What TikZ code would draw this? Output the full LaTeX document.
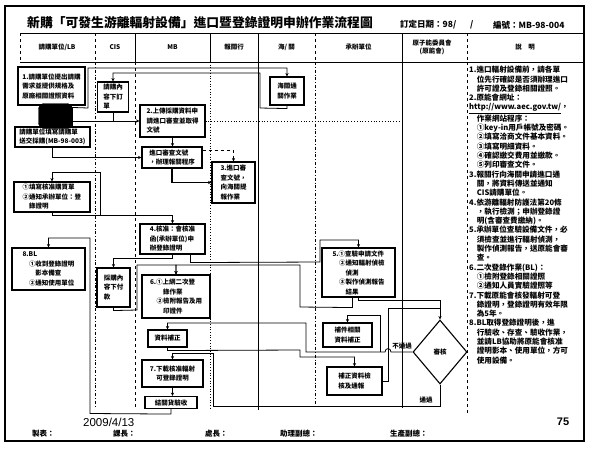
\documentclass[tikz,border=0pt]{standalone}
\usepackage{fontspec}
\setmainfont{Noto Sans CJK TC}
\newfontfamily\latinsans{Liberation Sans}
\usetikzlibrary{arrows.meta,calc,shapes.geometric}
\begin{document}
\begin{tikzpicture}[x=1pt,y=-1pt,
  box/.style={draw,line width=1.1pt,fill=white,inner sep=1.5pt,align=left,font=\fontsize{6.5}{9.5}\selectfont\bfseries},
  conn/.style={line width=0.8pt},
  arr/.style={conn,-{Stealth[length=3.4pt,width=3.2pt]}},
  hdr/.style={font=\fontsize{6.5}{8}\selectfont\bfseries,align=center,inner sep=0pt},
  lbl/.style={font=\fontsize{6.5}{8}\selectfont\bfseries,inner sep=0.5pt},
  foot/.style={font=\fontsize{7.5}{9}\selectfont\bfseries,anchor=west,inner sep=0pt},
  grid/.style={line width=0.7pt}]
\fill[white] (0,0) rectangle (589,451);
\useasboundingbox (0,0) rectangle (589,451);
% frame
\draw[line width=1.6pt] (5,6) rectangle (584,441);
% title
\node[anchor=west,inner sep=0pt,font=\fontsize{12.8}{14}\selectfont\bfseries] (title) at (27,23) {新購「可發生游離輻射設備」進口暨登錄證明申辦作業流程圖};
\node[anchor=west,inner sep=0pt,font=\fontsize{8.5}{10}\selectfont\bfseries] (date) at (400,25) {訂定日期：98/};
\node[anchor=west,inner sep=0pt,font=\fontsize{8.5}{10}\selectfont\bfseries] (slash) at (470,25) {/};
\node[anchor=west,inner sep=0pt,font=\fontsize{8.5}{10}\selectfont\bfseries] (code) at (493,25) {編號：MB-98-004};
% header row
\draw[grid,line width=1pt] (20,33) -- (583,33);
\draw[grid,line width=1pt] (20,62) -- (583,62);
\foreach \x in {20,95,315,467,583} \draw[grid,dashed] (\x,33) -- (\x,62);
\foreach \x in {135,210,258,402} \draw[grid,line width=1pt] (\x,33) -- (\x,62);
\node[hdr] (h1) at (57,47) {請購單位/LB};
\node[hdr] (h2) at (115,47) {CIS};
\node[hdr] (h3) at (172.5,47) {MB};
\node[hdr] (h4) at (234,47) {報關行};
\node[hdr] (h5) at (286.5,47) {海/ 關};
\node[hdr] (h6) at (358.5,47) {承辦單位};
\node[hdr] (h7) at (432,47) {原子能委員會\\(原能會)};
\node[hdr] (h8) at (525,47) {說　明};
% body dividers
\draw[grid,dash dot] (95,62) -- (95,408);
\draw[grid,dashed] (135,62) -- (135,408);
\draw[grid,dotted] (210,62) -- (210,408);
\draw[grid,line width=0.6pt] (258,62) -- (258,410);
\draw[grid,dash dot] (315,62) -- (315,408);
\draw[grid] (402,62) -- (402,408);
\draw[grid,dashed] (467,62) -- (467,414);
% boxes
\node[box,minimum width=67pt,minimum height=38pt] (A) at (51.5,86) {1.請購單位提出請購\\需求並提供規格及\\原廠相關證照資料};
\node[box,minimum width=75pt,minimum height=20pt] (B) at (52.5,137) {請購單位填寫請購單\\送交採購(MB-98-003)};
% scan blot
\node[fill=black,draw=black,rounded corners=5pt,minimum width=34pt,minimum height=25pt,inner sep=0pt] (blot) at (55.5,116) {};
\node[box,minimum width=31pt,minimum height=30pt] (C) at (113,97) {請購內\\容下訂\\單};
\node[box,minimum width=65pt,minimum height=32pt] (D) at (172.5,121) {2.上傳採購資料申\\請進口審查並取得\\文號};
\node[box,minimum width=60pt,minimum height=21pt] (E) at (172,157.5) {進口審查文號\\，辦理報關程序};
\node[box,minimum width=34pt,minimum height=28pt] (F) at (287,91) {海關通\\關作業};
\node[box,minimum width=43pt,minimum height=41pt] (G) at (233.5,182.5) {3.進口審\\查文號，\\向海關提\\報作業};
\node[box,minimum width=76pt,minimum height=30pt] (H) at (52,197) {①填寫核准購買單\\②通知承辦單位：登\\　錄證明};
\node[box,minimum width=73pt,minimum height=42pt] (I) at (48.5,269) {8.BL\\　①收到登錄證明\\　　影本備查\\　②通知使用單位};
\node[box,minimum width=65pt,minimum height=30pt] (K) at (172.5,239) {4.核准：會核准\\函(承辦單位)申\\辦登錄證明};
\node[box,minimum width=33pt,minimum height=39pt] (L) at (113.5,287.5) {採購內\\容下付\\款};
\node[box,minimum width=68pt,minimum height=43pt] (M) at (176,296.5) {6.①上網二次登\\　　錄作業\\　②檢附報告及用\\　　印證件};
\node[box,minimum width=73pt,minimum height=49pt] (N) at (358.5,272.5) {5.①查驗申請文件\\　②通知輻射偵檢\\　　偵測\\　③製作偵測報告\\　　結果};
\node[box,minimum width=39pt,minimum height=17pt] (O) at (167.5,338.5) {資料補正};
\node[box,minimum width=49pt,minimum height=24pt] (P) at (347.5,335) {補件相關\\資料補正};
\node[box,minimum width=55pt,minimum height=28pt] (Q) at (354.5,381) {補正資料檢\\核及通報};
\node[box,minimum width=61pt,minimum height=27pt] (R) at (172.5,373.5) {7.下載核准輻射\\　可登錄證明};
\node[box,minimum width=52pt,minimum height=12pt] (J) at (171,402.5) {結關貨驗收};
\node[draw,diamond,line width=1.1pt,fill=white,minimum width=54pt,minimum height=64pt,inner sep=0pt,font=\fontsize{6.5}{8}\selectfont\bfseries] (dia) at (440,352) {審核};
% connectors
\draw[arr] ($(B.north)+(20,0)$) -- ++(0,-19) -- (88,108) -- (88,68) -- (287,68) -- (F.north);
\draw[arr] (F.south) -- ++(0,3) -- (260,108) -- (260,73) -| (C.north);
\draw[arr] (C.south) |- (D.west);
\draw[conn] (72.5,121) -- (C.south |- D.west);
\draw[conn,dotted,line width=0.6pt] (D.east) -- (401,121);
\draw[arr] (D.south) -- (D.south |- E.north);
\draw[arr] (B.south) |- (E.west);
\draw[arr,line width=1.1pt] (E.south) |- (G.west);
\draw[arr,dashed] ($(E.north east)+(0,4)$) -| (G.north);
\draw[arr] (100,215) -- (100,172) -| (H.north);
\draw[arr] (H.south) -- ++(0,3) -| (K.north);
\draw[arr] (K.south) -- ++(0,4) -| (L.north);
\draw[arr] ($(K.south)+(18,0)$) -- ++(0,8) -- (320,262) -- (320,240) -| (N.north);
\draw[arr] ($(N.south)+(-6,0)$) -- ++(0,10) -- (300,307) -- (300,265) -| (M.north);
\draw[arr] (L.south) -- ++(0,3) -- (137,310) -- (137,265) -| (M.north);
\draw[arr] (N.south) -- ++(0,3) -| (dia.north);
\draw[arr] (dia.west) -- (391,352) .. controls (391,347.5) and (385,347.5) .. (385,352) -- (306,352) -- (306,323) -| (O.north);
\draw[arr] (380,352) -- (380,315) -| (P.north);
\draw[arr] (O.south) -- ++(0,3) -- (300,350) -- (300,357) -| (Q.north);
\draw[conn] (Q.east) -- (388,381) -- (388,308) -- (440,308);
\draw[arr] (dia.south) -- (440,406) -- (213,406) -- (213,353) -| (R.north);
\draw[arr] (R.south) -- (R.south |- J.north);
\draw[arr] (J.south) -- ++(0,5) -- (90,413.5) -- (90,238) -| (I.north);
\node[lbl] (nopass) at (402,346.5) {不通過};
\node[lbl] (pass) at (426,400) {通過};
% description
\node[anchor=north west,inner sep=0pt,align=left,font=\fontsize{7.6}{9.3}\selectfont\bfseries] (desc) at (469,66) {%
1.進口輻射設備前，請各單\\
　位先行確認是否須辦理進口\\
　許可證及登錄相關證照。\\
2.原能會網址：\\
\underline{http://www.aec.gov.tw/}，\\
　作業網站程序：\\
　①key-in用戶帳號及密碼。\\
　②填寫洽商文件基本資料。\\
　③填寫明細資料。\\
　④確認繳交費用並繳款。\\
　⑤列印審查文件。\\
3.報關行向海關申請進口通\\
　關，將資料傳送並通知\\
　CIS請購單位。\\
4.依游離輻射防護法第20條\\
　，執行檢測；申辦登錄證\\
　明(含審查費繳納)。\\
5.承辦單位查驗設備文件，必\\
　須檢查並進行輻射偵測，\\
　製作偵測報告，送原能會審\\
　查。\\
6.二次登錄作業(BL)：\\
　①檢附登錄相關證照\\
　②通知人員實驗證照等\\
7.下載原能會核發輻射可登\\
　錄證明，登錄證明有效年限\\
　為5年。\\
8.BL取得登錄證明後，進\\
　行驗收、存查、驗收作業，\\
　並請LB協助將原能會核准\\
　證明影本、使用單位，方可\\
　使用設備。};
% footer
\node[anchor=west,inner sep=0pt,font=\latinsans\fontsize{11.5}{13}\selectfont] (dt) at (83,422) {2009/4/13};
\node[foot] (f1) at (32,434) {製表：};
\node[foot] (f2) at (113,434) {課長：};
\node[foot] (f3) at (205,434) {處長：};
\node[foot] (f4) at (280,434) {助理副總：};
\node[foot] (f5) at (390,434) {生產副總：};
\node[inner sep=0pt,font=\latinsans\bfseries\fontsize{11}{13}\selectfont] (pg) at (563,422) {75};
\end{tikzpicture}
\end{document}
